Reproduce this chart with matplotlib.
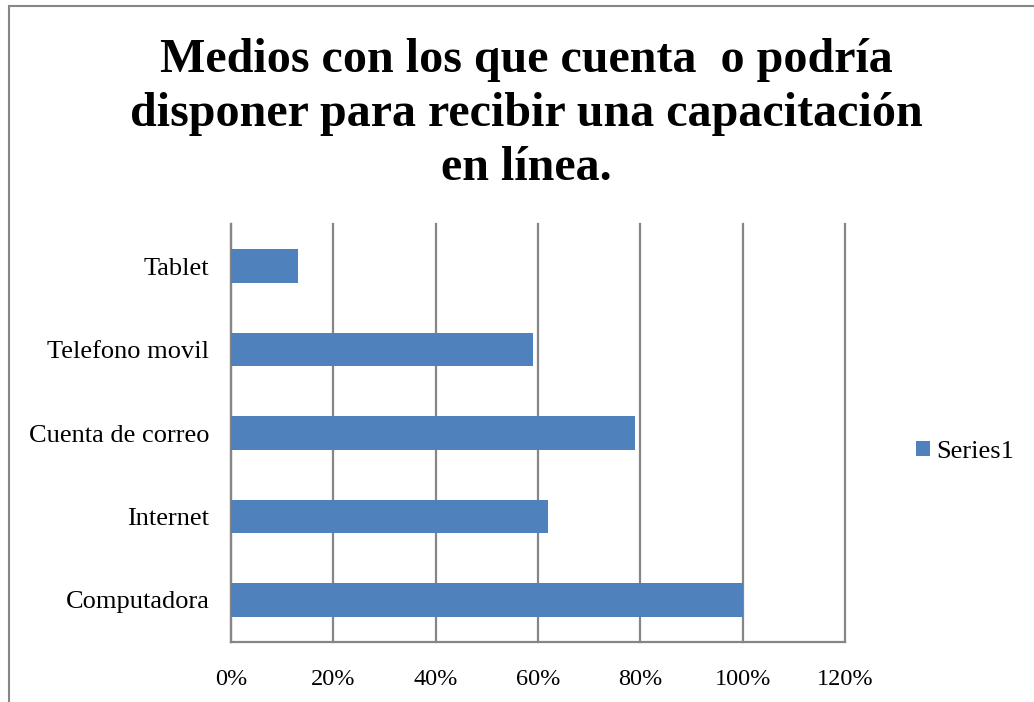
import matplotlib.pyplot as plt
from matplotlib.patches import Rectangle

# Porcentaje de encuestados por medio disponible
categorias = ["Computadora", "Internet", "Cuenta de correo", "Telefono movil", "Tablet"]
valores = [100, 62, 79, 59, 13]
ticks = [0, 20, 40, 60, 80, 100, 120]

azul = "#4f81bd"
gris = "#868686"

plt.rcParams["font.family"] = ["Liberation Serif", "DejaVu Serif"]

fig = plt.figure(figsize=(10.34, 7.02), dpi=100)
W, H = 1034, 702

# marco exterior del grafico
fig.patches.append(Rectangle((8.5 / W, -0.1), 1.2, (H - 5.5) / H + 0.1,
                             transform=fig.transFigure, fill=False,
                             edgecolor=gris, linewidth=1.5))

ax = fig.add_axes([231 / W, 1 - 641.7 / H, (845 - 231) / W, (641.7 - 224.3) / H])
y = range(len(categorias))
ax.barh(y, valores, height=0.4, color=azul, label="Series1", zorder=3)
ax.set_xlim(0, 120)
ax.set_ylim(-0.5, len(categorias) - 0.5)
ax.set_xticks(ticks)
ax.set_xticklabels([f"{t}%" for t in ticks], fontsize=17.5)
ax.set_yticks(list(y))
ax.set_yticklabels(categorias, fontsize=19)
ax.tick_params(axis="x", length=0, pad=20)
ax.tick_params(axis="y", length=0, pad=15.5)
ax.grid(axis="x", color=gris, linewidth=1.6, zorder=0)
for g in ax.get_xgridlines():
    g.set_clip_on(False)
for s in ["top", "right"]:
    ax.spines[s].set_visible(False)
ax.spines["left"].set_color(gris)
ax.spines["left"].set_linewidth(1.6)
ax.spines["bottom"].set_color(gris)
ax.spines["bottom"].set_linewidth(1.6)

fig.text(526 / W, 1 - 114 / H,
         "Medios con los que cuenta  o podría\ndisponer para recibir una capacitación\nen línea.",
         ha="center", va="center", fontsize=34.6, fontweight="bold", linespacing=1.3)

fig.legend(loc="center left", bbox_to_anchor=(916 / W, 1 - 452 / H), frameon=False,
           fontsize=19, handlelength=0.53, handleheight=0.53, handletextpad=0.25,
           borderpad=0, borderaxespad=0)

fig.savefig("out.png", dpi=100)
